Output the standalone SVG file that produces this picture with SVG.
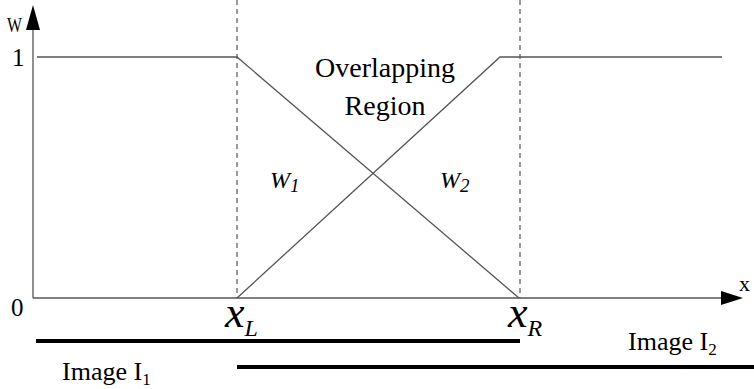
<svg xmlns="http://www.w3.org/2000/svg" width="754" height="389" viewBox="0 0 754 389">
<style>
.thin{stroke:#555;stroke-width:1.3;fill:none}
.dash{stroke:#555;stroke-width:1.2;stroke-dasharray:5,4;fill:none}
.thick{stroke:#000;stroke-width:4;fill:none}
</style>
<rect width="754" height="389" fill="#fff"/>
<g id="axes">
<line class="thin" x1="33" y1="298" x2="33" y2="28"/>
<polygon points="33,5 26,30 40,30" fill="#000"/>
<line class="thin" x1="33" y1="298" x2="722" y2="298"/>
<polygon points="743,298 721,291 721,305" fill="#000"/>
</g>
<g id="guides">
<line class="dash" x1="237" y1="0" x2="237" y2="298"/>
<line class="dash" x1="520" y1="0" x2="520" y2="298"/>
</g>
<g id="connectors">
<polyline class="thin" points="37,57 237,57 519,298"/>
<polyline class="thin" points="237,298 500,57 722,57"/>
</g>
<g id="bars">
<line class="thick" x1="36" y1="341" x2="520" y2="341"/>
<line class="thick" x1="237" y1="367" x2="754" y2="367"/>
</g>
<g id="labels" fill="#000">
<text font-family="'Liberation Serif', serif" x="7" y="32" font-size="20" textLength="15" lengthAdjust="spacingAndGlyphs">W</text>
<text font-family="'Liberation Serif', serif" x="12" y="66" font-size="25">1</text>
<text font-family="'Liberation Serif', serif" x="11" y="316" font-size="25">0</text>
<text font-family="'Liberation Serif', serif" x="739" y="291" font-size="22">x</text>
<text font-family="'Liberation Serif', serif" x="385" y="77" font-size="28" text-anchor="middle">Overlapping</text>
<text font-family="'Liberation Serif', serif" x="385" y="115" font-size="28" text-anchor="middle">Region</text>
<text font-family="'Liberation Serif', serif" x="270" y="188" font-size="24" font-style="italic">W<tspan font-size="19" dy="4">1</tspan></text>
<text font-family="'Liberation Serif', serif" x="440" y="188" font-size="24" font-style="italic">W<tspan font-size="19" dy="4">2</tspan></text>
<text font-family="'Liberation Serif', serif" x="225" y="327" font-size="44" font-style="italic">x<tspan font-size="24" dy="9">L</tspan></text>
<text font-family="'Liberation Serif', serif" x="508" y="327" font-size="44" font-style="italic">x<tspan font-size="24" dy="9">R</tspan></text>
<text font-family="'Liberation Serif', serif" x="62" y="380" font-size="26">Image I<tspan font-size="17" dy="5">1</tspan></text>
<text font-family="'Liberation Serif', serif" x="628" y="350" font-size="26">Image I<tspan font-size="17" dy="5">2</tspan></text>
</g>
</svg>
